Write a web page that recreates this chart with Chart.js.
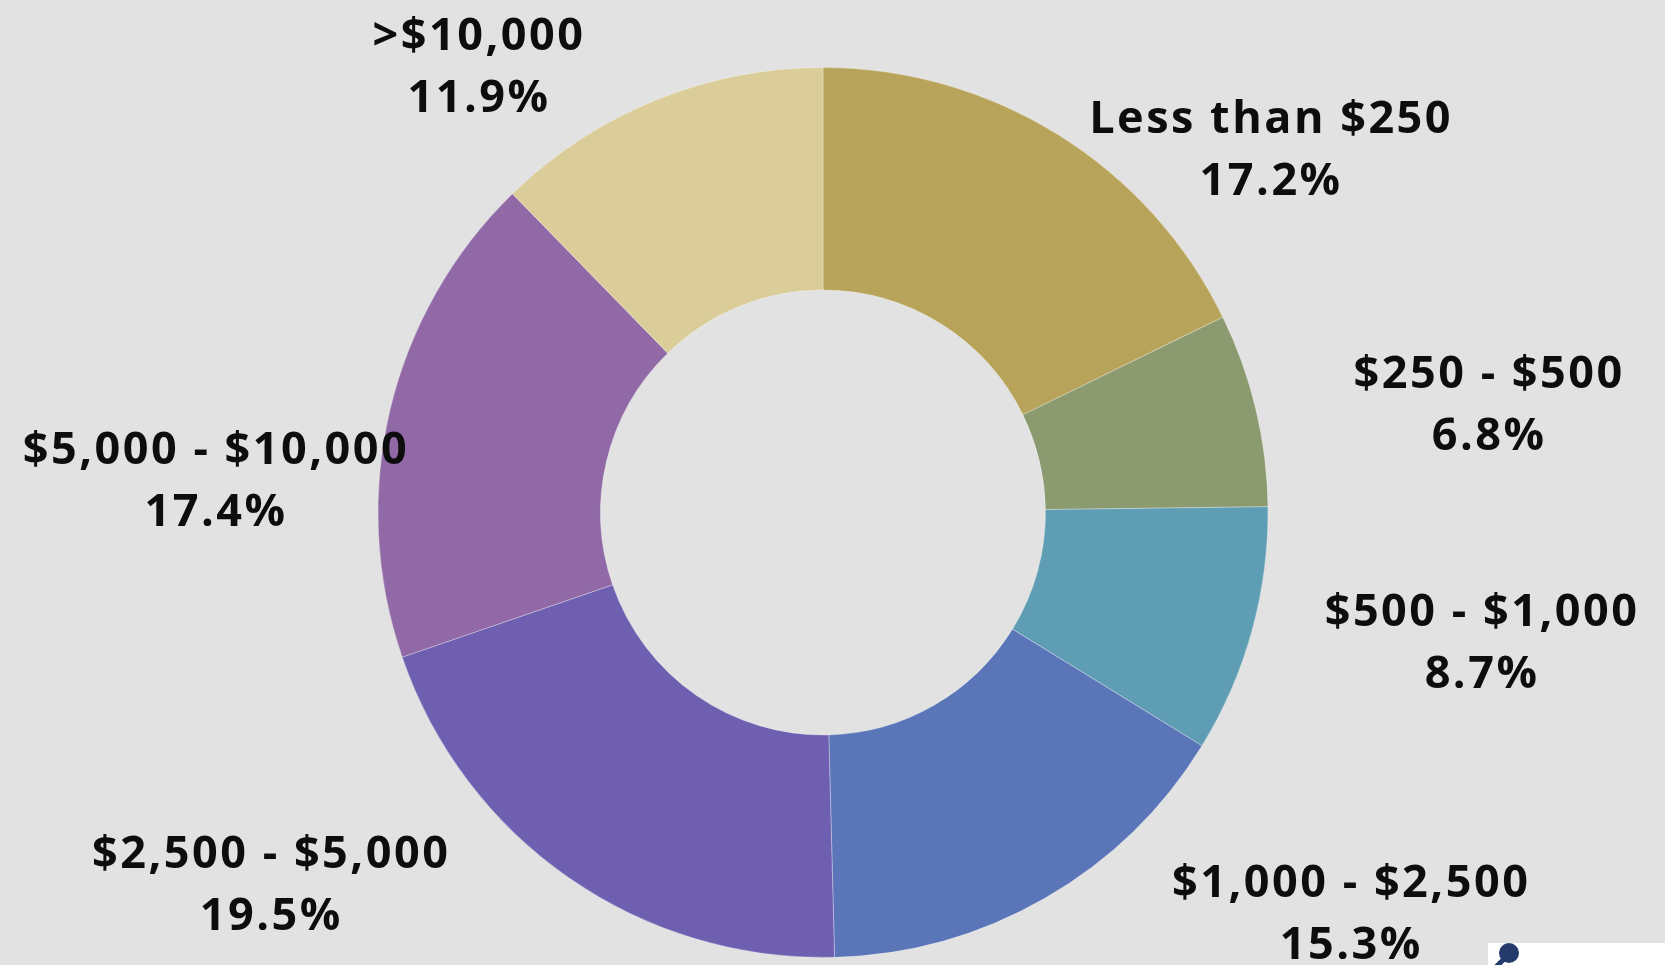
<!DOCTYPE html>
<html>
<head>
<meta charset="utf-8">
<title>Donation size</title>
<script src="https://cdn.jsdelivr.net/npm/chart.js@4"></script>
<style>
  html, body { margin: 0; padding: 0; }
  body { background: #e2e2e2; width: 1665px; height: 965px; overflow: hidden; position: relative; }
  #wrap { position: absolute; left: 0; top: 0; width: 1665px; height: 965px; }
  #logo { position: absolute; left: 1488px; top: 943px; }
</style>
</head>
<body>
<div id="wrap"><canvas id="myChart"></canvas></div>
<svg id="logo" width="177" height="22" viewBox="0 0 177 22">
  <rect x="0" y="0" width="177" height="22" fill="#ffffff"/>
  <line x1="8" y1="24" x2="18" y2="14" stroke="#233a6b" stroke-width="5" stroke-linecap="round"/>
  <circle cx="21" cy="10" r="10" fill="#233a6b"/>
</svg>
<script>
const labels = [
  'Less than $250',
  '$250 - $500',
  '$500 - $1,000',
  '$1,000 - $2,500',
  '$2,500 - $5,000',
  '$5,000 - $10,000',
  '>$10,000'
];

// share of gifts, percent
const shares = [17.2, 6.8, 8.7, 15.3, 19.5, 17.4, 11.9];

const colors = [
  '#b8a35a',
  '#8c9a70',
  '#5f9db4',
  '#5a76b8',
  '#6f5fb1',
  '#9069a6',
  '#dbcd9a'
];

// where each label sits, relative to the ring centre, in outer radii
const labelOffsets = [
  [1.007, -0.812],
  [1.497, -0.239],
  [1.481, 0.296],
  [1.187, 0.905],
  [-1.240, 0.839],
  [-1.364, -0.068],
  [-0.773, -0.999]
];

const labelFont = 'bold 45px "Open Sans", "DejaVu Sans", sans-serif';
const lineGap = 62;

const outsideLabels = {
  id: 'outsideLabels',
  afterDatasetsDraw(chart) {
    const ctx = chart.ctx;
    const meta = chart.getDatasetMeta(0);
    ctx.save();
    ctx.font = labelFont;
    ctx.letterSpacing = '2.5px';
    ctx.fillStyle = '#0d0d0d';
    ctx.textAlign = 'center';
    ctx.textBaseline = 'middle';
    meta.data.forEach((arc, i) => {
      const r = arc.outerRadius;
      const x = arc.x + labelOffsets[i][0] * r;
      const y = arc.y + labelOffsets[i][1] * r;
      ctx.fillText(chart.data.labels[i], x, y - lineGap / 2);
      ctx.fillText(chart.data.datasets[0].data[i].toFixed(1) + '%', x, y + lineGap / 2);
    });
    ctx.restore();
  }
};

const data = {
  labels: labels,
  datasets: [{
    data: shares,
    backgroundColor: colors,
    borderColor: 'rgba(255, 255, 255, 0.3)',
    borderWidth: 1
  }]
};

const config = {
  type: 'doughnut',
  data: data,
  options: {
    responsive: true,
    maintainAspectRatio: false,
    animation: false,
    cutout: '50%',
    layout: { padding: { top: 67, bottom: 7, left: 0, right: 19 } },
    plugins: {
      legend: { display: false },
      tooltip: { enabled: false }
    }
  },
  plugins: [outsideLabels]
};

let myChart = new Chart(document.getElementById('myChart'), config);
</script>
</body>
</html>
